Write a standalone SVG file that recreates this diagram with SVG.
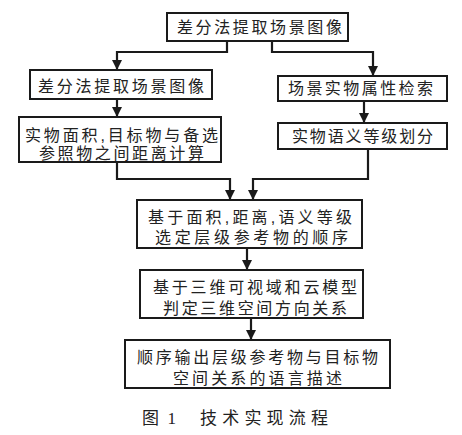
<svg xmlns="http://www.w3.org/2000/svg" width="462" height="435" viewBox="0 0 462 435">
<style>
.box{fill:#fff;stroke:#1a1a1a;stroke-width:2}
.t{font-family:"Liberation Sans","Noto Sans CJK SC",sans-serif;font-size:16px;fill:#222}
.cap{font-family:"Liberation Serif","Noto Sans CJK SC",serif;font-size:17px;fill:#222}
.c{fill:none;stroke:#1a1a1a;stroke-width:2.2}
</style>
<defs>
<marker id="ah" markerWidth="10" markerHeight="12" refX="9" refY="5" orient="auto" markerUnits="userSpaceOnUse" viewBox="0 0 10 10">
<path d="M0,0 L10,5 L0,10 Z" fill="#1a1a1a"/>
</marker>
</defs>
<rect width="462" height="435" fill="#fff"/>
<g id="connectors">
<path class="c" d="M227,41 V52 H117 V69" marker-end="url(#ah)"/>
<path class="c" d="M272,41 V52 H373 V75" marker-end="url(#ah)"/>
<path class="c" d="M117,99 V116" marker-end="url(#ah)"/>
<path class="c" d="M364,101 V122" marker-end="url(#ah)"/>
<path class="c" d="M117,162 V179 H230 V199" marker-end="url(#ah)"/>
<path class="c" d="M368,149 V179 H253 V199" marker-end="url(#ah)"/>
<path class="c" d="M247,248 V269" marker-end="url(#ah)"/>
<path class="c" d="M251,318 V339" marker-end="url(#ah)"/>
</g>
<g id="n1"><rect class="box" x="167" y="13" width="181" height="28"/>
<text class="t" x="177" y="33" textLength="165" lengthAdjust="spacing">差分法提取场景图像</text></g>
<g id="n2"><rect class="box" x="30" y="70" width="182" height="29"/>
<text class="t" x="38" y="92" textLength="166" lengthAdjust="spacing">差分法提取场景图像</text></g>
<g id="n3"><rect class="box" x="278" y="76" width="169" height="25"/>
<text class="t" x="288" y="94" textLength="145" lengthAdjust="spacing">场景实物属性检索</text></g>
<g id="n4"><rect class="box" x="19" y="117" width="202" height="45"/>
<text class="t" x="25" y="141" textLength="193" lengthAdjust="spacing">实物面积,目标物与备选</text>
<text class="t" x="39" y="159" textLength="165" lengthAdjust="spacing">参照物之间距离计算</text></g>
<g id="n5"><rect class="box" x="278" y="123" width="169" height="26"/>
<text class="t" x="292" y="142" textLength="141" lengthAdjust="spacing">实物语义等级划分</text></g>
<g id="n6"><rect class="box" x="137" y="200" width="225" height="48"/>
<text class="t" x="148" y="223" textLength="204" lengthAdjust="spacing">基于面积,距离,语义等级</text>
<text class="t" x="155" y="243" textLength="193" lengthAdjust="spacing">选定层级参考物的顺序</text></g>
<g id="n7"><rect class="box" x="140" y="270" width="223" height="48"/>
<text class="t" x="153" y="293" textLength="204" lengthAdjust="spacing">基于三维可视域和云模型</text>
<text class="t" x="163" y="314" textLength="184" lengthAdjust="spacing">判定三维空间方向关系</text></g>
<g id="n8"><rect class="box" x="125" y="340" width="265" height="48"/>
<text class="t" x="137" y="363" textLength="241" lengthAdjust="spacing">顺序输出层级参考物与目标物</text>
<text class="t" x="173" y="384" textLength="169" lengthAdjust="spacing">空间关系的语言描述</text></g>
<g id="caption">
<text class="cap" x="142" y="424" textLength="34" lengthAdjust="spacing">图 1</text>
<text class="cap" x="200" y="424" textLength="128" lengthAdjust="spacing">技术实现流程</text>
</g>
</svg>
